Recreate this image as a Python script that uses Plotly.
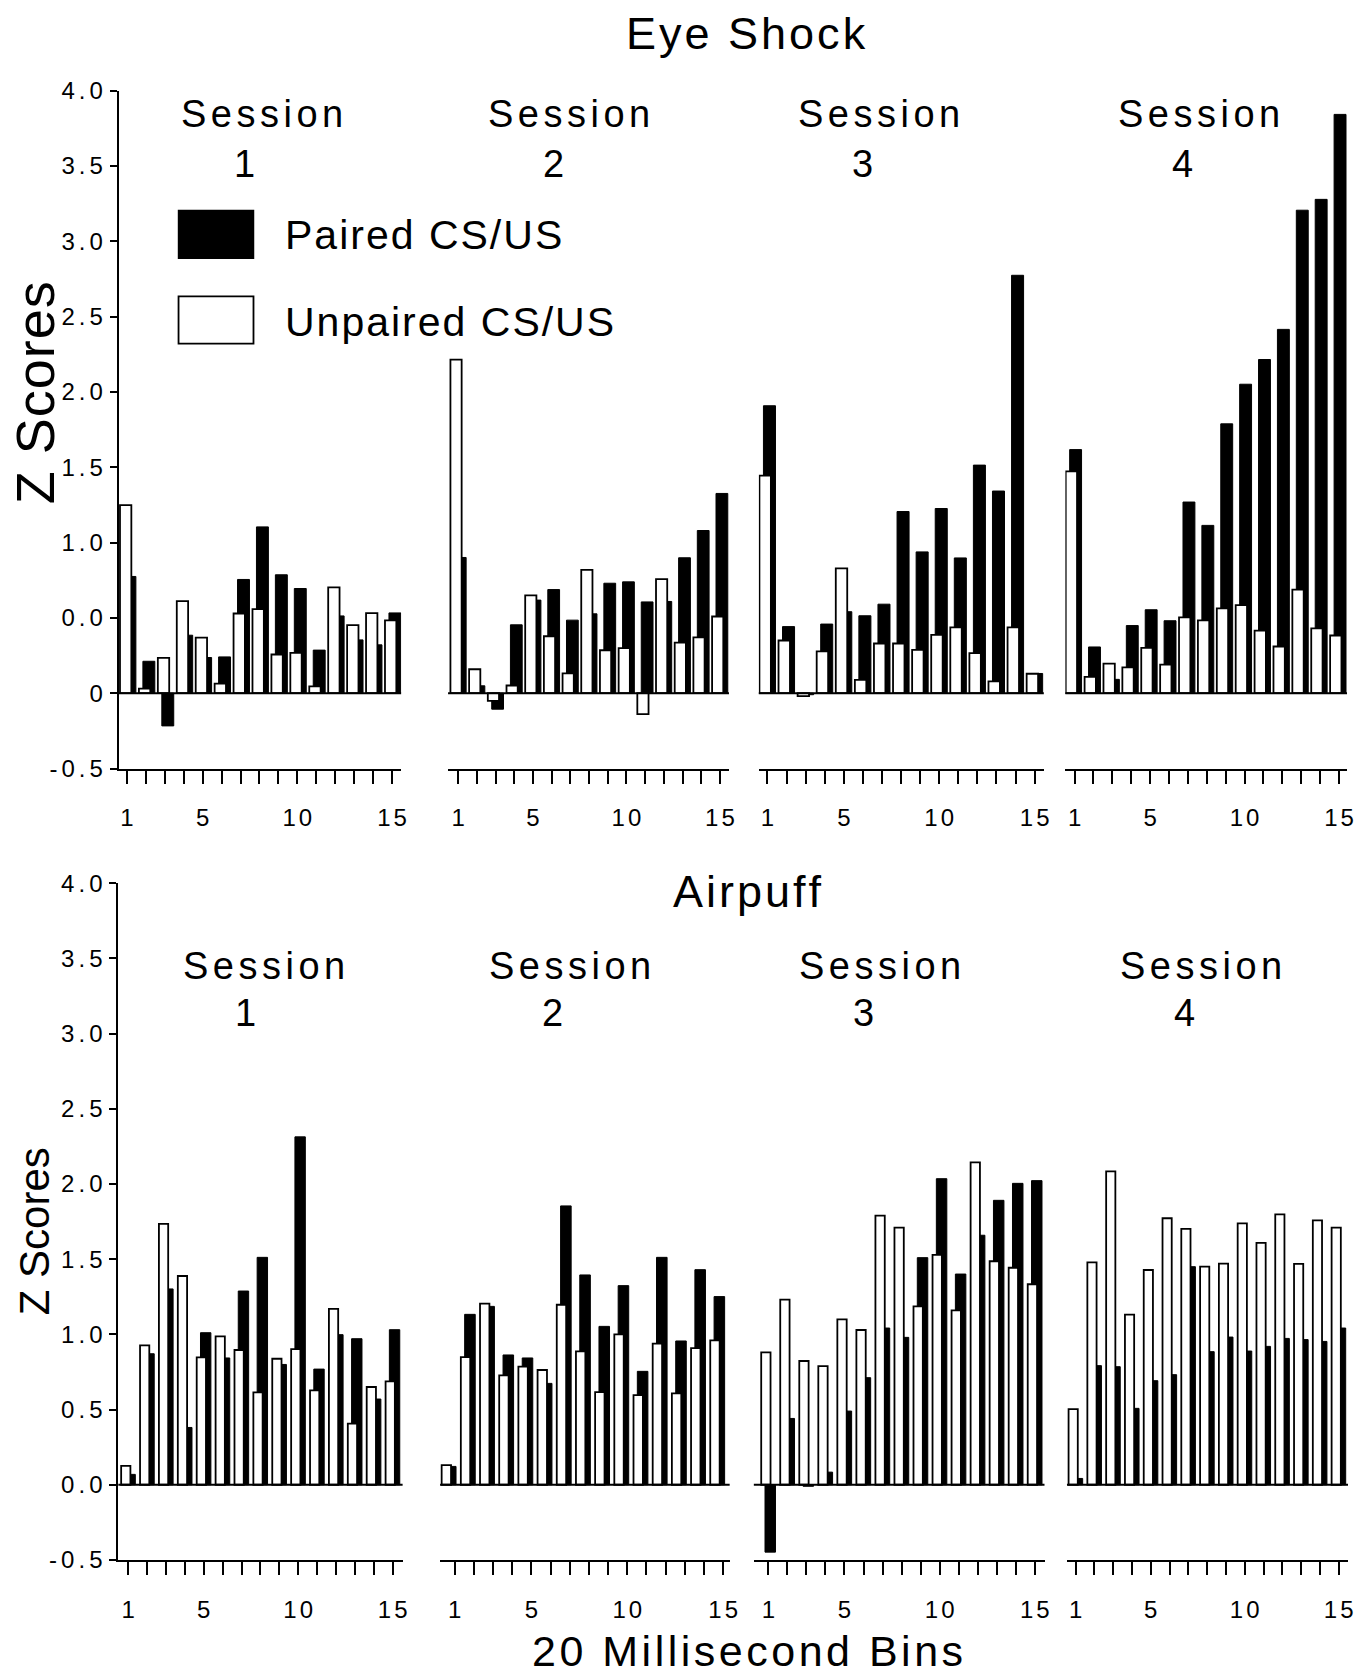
import plotly.graph_objects as go

W, H = 1357, 1679
# the photographed page shows page row p at about OY + SY * p; place things accordingly
OY, SY = 14.4, 0.984
FONT = "Liberation Sans, Arial, Helvetica, sans-serif"

bins = list(range(1, 16))
x_tick_labels = {1: "1", 5: "5", 10: "10", 15: "15"}

top_y_vals = [-0.5, 0.0, 0.5, 1.0, 1.5, 2.0, 2.5, 3.0, 3.5, 4.0]
top_y_text = ["-0.5", "0", "0.0", "1.0", "1.5", "2.0", "2.5", "3.0", "3.5", "4.0"]
bot_y_vals = [-0.5, 0.0, 0.5, 1.0, 1.5, 2.0, 2.5, 3.0, 3.5, 4.0]
bot_y_text = ["-0.5", "0.0", "0.5", "1.0", "1.5", "2.0", "2.5", "3.0", "3.5", "4.0"]

# ---- Eye Shock (top) ----
eye_s1_paired = [0.775, 0.212, -0.217, 0.385, 0.237, 0.241, 0.755, 1.104, 0.786, 0.695, 0.286, 0.513, 0.354, 0.321, 0.533]
eye_s1_unpaired = [1.248, 0.031, 0.235, 0.611, 0.369, 0.064, 0.529, 0.558, 0.257, 0.268, 0.046, 0.702, 0.452, 0.531, 0.483]
eye_s2_paired = [0.901, 0.049, -0.106, 0.454, 0.618, 0.688, 0.485, 0.527, 0.730, 0.739, 0.606, 0.609, 0.899, 1.080, 1.326]
eye_s2_unpaired = [2.214, 0.159, -0.051, 0.051, 0.649, 0.378, 0.131, 0.819, 0.285, 0.299, -0.139, 0.757, 0.336, 0.370, 0.509]
eye_s3_paired = [1.908, 0.442, -0.010, 0.459, 0.541, 0.514, 0.591, 1.206, 0.938, 1.226, 0.898, 1.514, 1.342, 2.774, 0.131]
eye_s3_unpaired = [1.444, 0.350, -0.020, 0.278, 0.829, 0.089, 0.330, 0.330, 0.288, 0.387, 0.437, 0.266, 0.079, 0.437, 0.129]
eye_s4_paired = [1.617, 0.307, 0.092, 0.449, 0.554, 0.481, 1.269, 1.114, 1.788, 2.051, 2.215, 2.415, 3.206, 3.278, 3.842]
eye_s4_unpaired = [1.472, 0.108, 0.196, 0.171, 0.301, 0.190, 0.503, 0.484, 0.563, 0.585, 0.415, 0.310, 0.687, 0.430, 0.383]

# ---- Airpuff (bottom) ----
air_s1_paired = [0.069, 0.871, 1.302, 0.381, 1.011, 0.843, 1.288, 1.512, 0.800, 2.313, 0.769, 0.998, 0.971, 0.570, 1.031]
air_s1_unpaired = [0.126, 0.927, 1.734, 1.388, 0.847, 0.987, 0.896, 0.614, 0.838, 0.902, 0.627, 1.169, 0.406, 0.650, 0.687]
air_s2_paired = [0.122, 1.133, 1.186, 0.863, 0.843, 0.674, 1.854, 1.395, 1.053, 1.324, 0.754, 1.512, 0.956, 1.430, 1.251]
air_s2_unpaired = [0.131, 0.849, 1.204, 0.727, 0.785, 0.763, 1.197, 0.887, 0.616, 1.000, 0.596, 0.938, 0.608, 0.909, 0.960]
air_s3_paired = [-0.448, 0.441, -0.010, 0.084, 0.490, 0.712, 1.042, 0.980, 1.510, 2.035, 1.401, 1.659, 1.891, 2.004, 2.022]
air_s3_unpaired = [0.880, 1.231, 0.823, 0.789, 1.100, 1.029, 1.789, 1.710, 1.186, 1.528, 1.160, 2.144, 1.486, 1.443, 1.333]
air_s4_paired = [0.042, 0.792, 0.785, 0.508, 0.692, 0.732, 1.450, 0.885, 0.982, 0.889, 0.920, 0.973, 0.965, 0.953, 1.042]
air_s4_unpaired = [0.503, 1.479, 2.084, 1.131, 1.428, 1.772, 1.701, 1.450, 1.470, 1.738, 1.608, 1.798, 1.468, 1.758, 1.710]

eye_paired = [eye_s1_paired, eye_s2_paired, eye_s3_paired, eye_s4_paired]
eye_unpaired = [eye_s1_unpaired, eye_s2_unpaired, eye_s3_unpaired, eye_s4_unpaired]
air_paired = [air_s1_paired, air_s2_paired, air_s3_paired, air_s4_paired]
air_unpaired = [air_s1_unpaired, air_s2_unpaired, air_s3_unpaired, air_s4_unpaired]


def spaced(text, s):
    """letter-spacing on all characters but the last (no trailing gap)"""
    if len(text) <= 1 or s == 0:
        return text
    return '<span style="letter-spacing:%.1fpx">%s</span>%s' % (s, text[:-1], text[-1])


def fx(p):
    return min(max(p / W, 0.0), 1.0)


def fy(p):
    q = (p - OY) / SY
    return min(max(1 - q / H, 0.0), 1.0)


# per-session layout in pixels: axis start/end, centre of bin 1, px per bin, tick shift
top_layout = [
    dict(L=119.3, R=403.5, c1=128.7, d=19.04, shift=-0.05),
    dict(L=450.7, R=733.3, c1=461.0, d=18.8, shift=0.0),
    dict(L=763.3, R=1050.0, c1=772.0, d=19.2, shift=0.0),
    dict(L=1071.7, R=1355.0, c1=1080.0, d=19.0, shift=0.05),
]
bot_layout = [
    dict(L=119.0, R=405.0, c1=129.0, d=19.0, shift=0.0),
    dict(L=442.7, R=734.0, c1=451.5, d=19.3, shift=0.3),
    dict(L=758.3, R=1050.7, c1=772.9, d=19.15, shift=0.0),
    dict(L=1073.3, R=1356.0, c1=1082.0, d=18.9, shift=0.0),
]

TOP_Y0, TOP_Y1 = 769.0, 91.0       # rows of -0.5 and 4.0
BOT_Y0, BOT_Y1 = 1560.5, 883.6

fig = go.Figure()
layout = dict(
    width=W, height=H,
    margin=dict(l=0, r=0, t=0, b=0, pad=0),
    paper_bgcolor="white", plot_bgcolor="white",
    showlegend=False, barmode="overlay",
    font=dict(family=FONT, color="black"),
)

shapes = []
annotations = []

panels = [
    ("top", top_layout, eye_paired, eye_unpaired, "y", 0,
     dict(w_off=-0.42, w_w=0.60, b_off=-0.21, b_w=0.63)),
    ("bot", bot_layout, air_paired, air_unpaired, "y2", 4,
     dict(w_off=-0.375, w_w=0.49, b_off=-0.175, b_w=0.55)),
]

for name, lay, paired, unpaired, yname, base, geo in panels:
    for k in range(4):
        idx = base + k + 1
        xname = "x" if idx == 1 else "x%d" % idx
        axkey = "xaxis" if idx == 1 else "xaxis%d" % idx
        s = lay[k]
        rng = [1 + (s["L"] - s["c1"]) / s["d"], 1 + (s["R"] - s["c1"]) / s["d"]]
        tickvals = [b + s["shift"] for b in bins]
        ticktext = [spaced(x_tick_labels.get(b, ""), 3) for b in bins]
        layout[axkey] = dict(
            domain=[fx(s["L"]), fx(s["R"])], range=rng, anchor=yname,
            showline=True, linecolor="black", linewidth=2,
            ticks="outside", ticklen=13, tickwidth=2, tickcolor="black",
            tickmode="array", tickvals=tickvals, ticktext=ticktext,
            tickfont=dict(family=FONT, size=24, color="black"),
            ticklabelstandoff=14,
            showgrid=False, zeroline=False, fixedrange=True,
        )
        fig.add_trace(go.Bar(
            x=bins, y=paired[k], xaxis=xname, yaxis=yname,
            offset=geo["b_off"], width=geo["b_w"],
            marker=dict(color="black", line=dict(color="black", width=1)),
            name="Paired CS/US", hoverinfo="x+y",
        ))
        fig.add_trace(go.Bar(
            x=bins, y=unpaired[k], xaxis=xname, yaxis=yname,
            offset=geo["w_off"], width=geo["w_w"],
            marker=dict(color="white", line=dict(color="black", width=1.8)),
            name="Unpaired CS/US", hoverinfo="x+y",
        ))
        shapes.append(dict(type="line", xref=xname + " domain", yref=yname,
                           x0=0, x1=1, y0=0, y1=0,
                           line=dict(color="black", width=2), layer="above"))

yaxis_common = dict(
    range=[-0.5, 4.0], showline=True, linecolor="black", linewidth=2,
    ticks="outside", ticklen=7, tickwidth=2, tickcolor="black",
    tickmode="array", tickfont=dict(family=FONT, size=24, color="black"),
    showgrid=False, zeroline=False, fixedrange=True, ticklabelstandoff=2,
)
layout["yaxis"] = dict(yaxis_common, domain=[fy(TOP_Y0), fy(TOP_Y1)], anchor="x",
                       tickvals=top_y_vals, ticktext=[spaced(t, 4) for t in top_y_text])
layout["yaxis2"] = dict(yaxis_common, domain=[fy(BOT_Y0), fy(BOT_Y1)], anchor="x5",
                        tickvals=bot_y_vals, ticktext=[spaced(t, 4) for t in bot_y_text])


def ann(text, x, y, size, spacing=0, angle=0, xanchor="center", yanchor="middle", yshift=0):
    annotations.append(dict(
        text=spaced(text, spacing), x=fx(x), y=fy(y), xref="paper", yref="paper",
        xanchor=xanchor, yanchor=yanchor, showarrow=False, textangle=angle,
        yshift=yshift, font=dict(family=FONT, size=size, color="black"),
    ))


# titles
ann("Eye Shock", 750, 34, 45, 3)
ann("Airpuff", 752, 892, 45, 3)
ann("20 Millisecond Bins", 752, 1700, 43, 3.5, yanchor="bottom", yshift=-11)
ann("Z Scores", 35, 393, 54, 1, angle=-90)
ann("Z Scores", 35, 1232, 42, 0, angle=-90)

session_nums = ["1", "2", "3", "4"]
top_session_x = [264, 572, 884, 1206]
top_num_x = [245.5, 557, 867.5, 1190]
bot_session_x = [266, 573, 885.7, 1208]
bot_num_x = [247.4, 556, 868.6, 1192]
for i in range(4):
    ann("Session", top_session_x[i], 114, 38, 4.5)
    ann(session_nums[i], top_num_x[i], 164, 38)
    ann("Session", bot_session_x[i], 966, 38, 4.5)
    ann(session_nums[i], bot_num_x[i], 1013, 38)

# legend
shapes.append(dict(type="rect", xref="paper", yref="paper",
                   x0=fx(179.6), x1=fx(255), y0=fy(258.7), y1=fy(211),
                   fillcolor="black", line=dict(color="black", width=1.5)))
shapes.append(dict(type="rect", xref="paper", yref="paper",
                   x0=fx(179.6), x1=fx(255), y0=fy(344), y1=fy(296.7),
                   fillcolor="white", line=dict(color="black", width=1.8)))
ann("Paired CS/US", 285, 235, 41, 2, xanchor="left")
ann("Unpaired CS/US", 285, 322, 41, 2, xanchor="left")

layout["shapes"] = shapes
layout["annotations"] = annotations
fig.update_layout(**layout)

fig.write_html("out.html", config={"displayModeBar": False, "staticPlot": True},
               post_script="document.body.style.margin='0';document.body.style.overflow='hidden';")
